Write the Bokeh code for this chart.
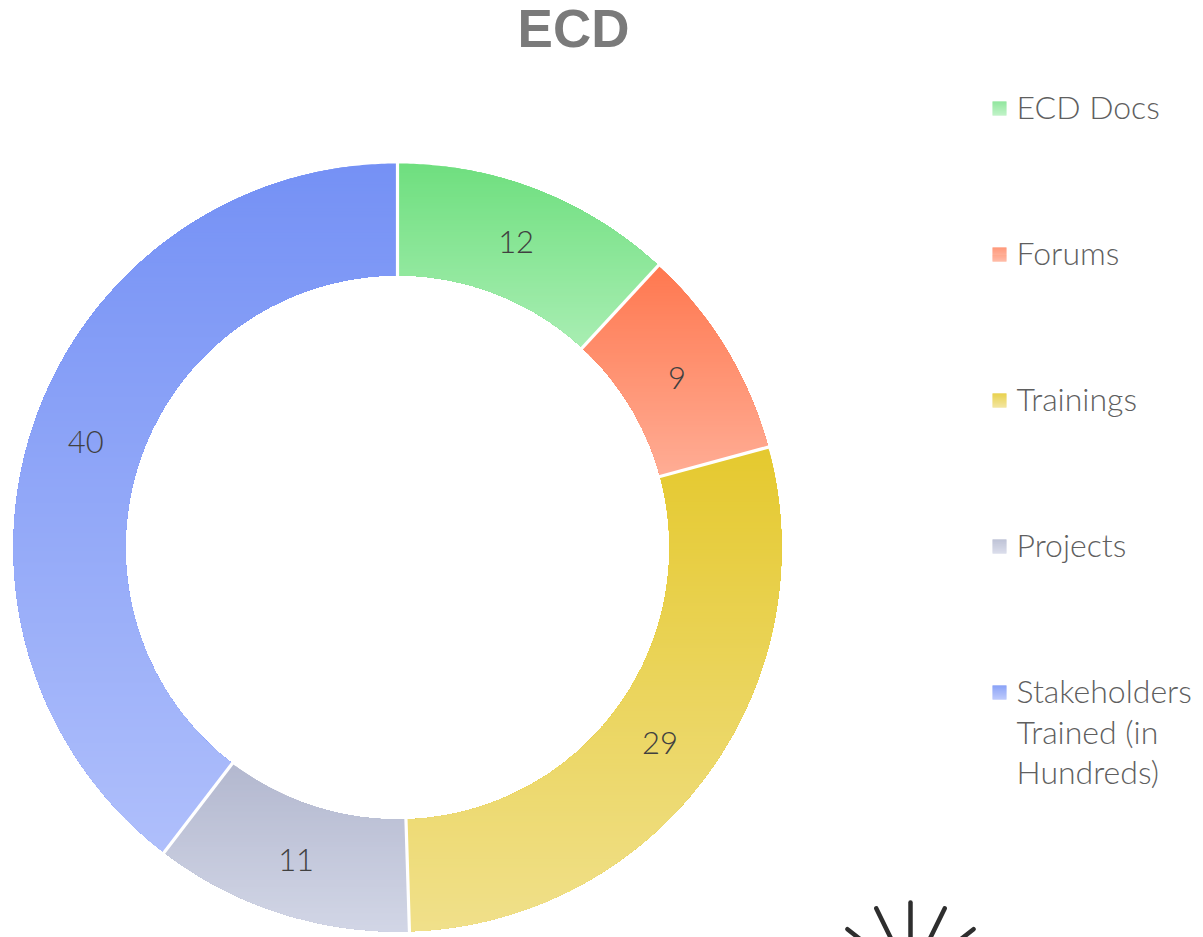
import math
from bokeh.plotting import figure
from bokeh.models import Range1d
from bokeh.core.properties import value
from bokeh.embed import file_html
from bokeh.resources import INLINE

categories = ["ECD Docs", "Forums", "Trainings", "Projects", "Stakeholders Trained (in Hundreds)"]
legend_lines = [["ECD Docs"], ["Forums"], ["Trainings"], ["Projects"], ["Stakeholders", "Trained (in", "Hundreds)"]]
values = [12, 9, 29, 11, 40]
grad_top = ["#6FDF7F", "#FF7850", "#E5C92F", "#B3B8CF", "#7591F5"]
grad_bot = ["#A9EEB3", "#FFAD95", "#F0E08B", "#D2D6E6", "#AFBFFB"]

W, H = 1203, 937
CX, CY, RO, RI = 397, H - 547, 384, 272
RL = 328
BAND = 3


def hex2rgb(c):
    return tuple(int(c[i:i + 2], 16) for i in (1, 3, 5))


def mix(a, b, t):
    a, b = hex2rgb(a), hex2rgb(b)
    return "#%02x%02x%02x" % tuple(round(a[i] + (b[i] - a[i]) * t) for i in range(3))


def clip_below(poly, yc):
    out = []
    for i in range(len(poly)):
        x0, y0 = poly[i]
        x1, y1 = poly[(i + 1) % len(poly)]
        in0, in1 = y0 <= yc, y1 <= yc
        if in0:
            out.append((x0, y0))
        if in0 != in1:
            t = (yc - y0) / (y1 - y0)
            out.append((x0 + (x1 - x0) * t, yc))
    return out


p = figure(width=W, height=H, x_range=Range1d(0, W), y_range=Range1d(0, H),
           output_backend="svg", toolbar_location=None, min_border=0,
           outline_line_color=None, background_fill_color="white")
p.xaxis.visible = False
p.yaxis.visible = False
p.grid.visible = False

total = sum(values)
cum = 0
starts, ends = [], []
sx, sy, sc = [], [], []
for v, top, bot in zip(values, grad_top, grad_bot):
    a0 = cum / total * 2 * math.pi
    cum += v
    a1 = cum / total * 2 * math.pi
    starts.append(a0)
    ends.append(a1)
    n = max(4, int((a1 - a0) * 120))
    ang = [a0 + (a1 - a0) * i / n for i in range(n + 1)]
    poly = [(CX + RO * math.sin(a), CY + RO * math.cos(a)) for a in ang]
    poly += [(CX + RI * math.sin(a), CY + RI * math.cos(a)) for a in reversed(ang)]
    ymax = max(q[1] for q in poly)
    ymin = min(q[1] for q in poly)
    y = ymax
    while y > ymin:
        c = clip_below(poly, y)
        if len(c) >= 3:
            sx.append([q[0] for q in c])
            sy.append([q[1] for q in c])
            sc.append(mix(top, bot, (ymax - y) / (ymax - ymin)))
        y -= BAND

p.patches(sx, sy, fill_color=sc, line_color=None)

# white separators between the slices, at the angles given by the values
p.segment(x0=[CX + (RI - 2) * math.sin(a) for a in starts], y0=[CY + (RI - 2) * math.cos(a) for a in starts],
          x1=[CX + (RO + 2) * math.sin(a) for a in starts], y1=[CY + (RO + 2) * math.cos(a) for a in starts],
          line_color="white", line_width=3.2)

# value labels
mids = [(s + e) / 2 for s, e in zip(starts, ends)]
p.text(x=[CX + RL * math.sin(m) - 1 for m in mids], y=[CY + RL * math.cos(m) for m in mids],
       text=[str(v) for v in values], text_font=value("Lato Light"), text_font_size="31px",
       text_color="#404040", text_align="center", text_baseline="middle")

# title
p.text(x=[573], y=[H - 28], text=["ECD"], text_font=value("Liberation Sans"), text_font_style="bold",
       text_font_size="53px", text_color="#7A7A7A", text_align="center", text_baseline="middle")

# legend
LEG_X, TXT_X, LEG_Y0, LEG_STEP, LINE_H, SW = 992, 1016, 108, 146, 40.5, 14
tx, ty, tt = [], [], []
gx, gy, gc = [], [], []
for i, lines in enumerate(legend_lines):
    yc = LEG_Y0 + i * LEG_STEP
    for j, line in enumerate(lines):
        tx.append(TXT_X)
        ty.append(H - (yc + j * LINE_H - 2))
        tt.append(line)
    for k in range(SW):
        gx.append(LEG_X + SW / 2)
        gy.append(H - (yc - SW / 2 + k + 0.5))
        gc.append(mix(grad_top[i], grad_bot[i], k / (SW - 1)))
p.rect(x=gx, y=gy, width=SW, height=1.2, fill_color=gc, line_color=None)
p.text(x=tx, y=ty, text=tt, text_font=value("Lato Light"), text_font_size="32px",
       text_color="#5F5F5F", text_align="left", text_baseline="middle")

# sun decoration at the bottom edge
SUN_X, SUN_Y = 910, H - 978
ray_angles = [-52, -26, 0, 26, 52]
ray_in, ray_out = [40] * 5, [80, 78, 76, 78, 80]
p.segment(x0=[SUN_X + r * math.sin(math.radians(a)) for a, r in zip(ray_angles, ray_in)],
          y0=[SUN_Y + r * math.cos(math.radians(a)) for a, r in zip(ray_angles, ray_in)],
          x1=[SUN_X + r * math.sin(math.radians(a)) for a, r in zip(ray_angles, ray_out)],
          y1=[SUN_Y + r * math.cos(math.radians(a)) for a, r in zip(ray_angles, ray_out)],
          line_color="#2E2E2E", line_width=4.5, line_cap="round")

open("out.html", "w").write(file_html(p, INLINE))
